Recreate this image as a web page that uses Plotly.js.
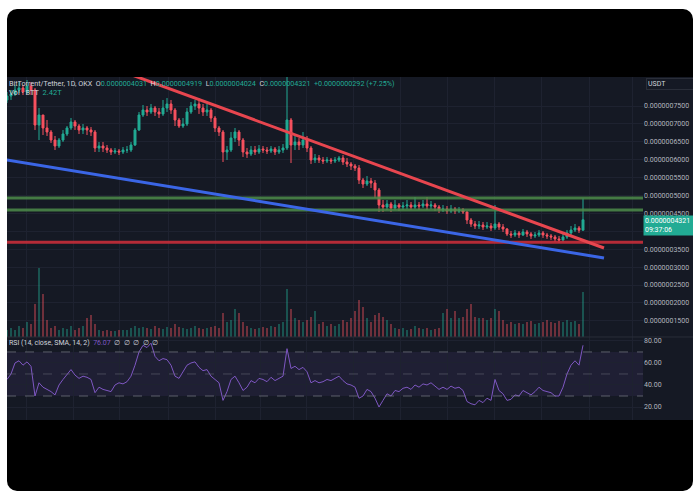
<!DOCTYPE html>
<html>
<head>
<meta charset="utf-8">
<script src="https://cdn.plot.ly/plotly-3.0.1.min.js"></script>
<style>
  html, body { margin:0; padding:0; background:#ffffff; width:700px; height:500px; overflow:hidden; }
  #frame { position:absolute; left:7px; top:9px; width:686px; height:482px; background:#000; border-radius:10px; }
  #chart { position:absolute; left:7px; top:77px; width:686px; height:343px; overflow:hidden; }
</style>
</head>
<body>
<div id="frame"></div>
<div id="chart"></div>
<script>
// Prices stored as price x 1e10 (e.g. 4321 = 0.0000004321 USDT)
const openFirstE10 = 7668;
const closeE10 = [7779,7835,7947,8003,7891,8059,7947,6969,7249,6886,6774,6550,6383,6550,6718,6886,7053,6941,6830,6886,
  6830,6774,6327,6383,6327,6271,6215,6243,6215,6271,6271,6411,6830,7249,7388,7332,7444,7332,7277,7444,
  7556,7388,7109,6941,6997,7332,7500,7556,7444,7332,7388,7165,6886,6774,6215,6271,6606,6774,6550,6215,
  6159,6271,6215,6299,6271,6243,6299,6215,6271,6327,7109,6411,6495,6411,6550,6327,5992,6048,5992,5964,
  5992,5964,5992,6048,5936,5880,5824,5768,5433,5321,5405,5349,5154,4735,4679,4763,4651,4735,4679,4707,
  4735,4679,4735,4707,4763,4707,4735,4679,4595,4623,4567,4623,4567,4595,4539,4316,4204,4148,4176,4121,
  4148,4093,4204,4121,4065,3926,3898,3954,3898,3981,3926,3870,3898,3954,3898,3870,3842,3786,3758,3842,
  3954,4037,4093,4031,4321];
const highE10 = [7891,7947,8087,8170,8087,8226,8170,8003,7444,7249,7109,6830,6662,6606,6830,6941,7165,7109,6997,6997,
  6941,6913,6830,6495,6495,6411,6327,6327,6299,6355,6383,6495,6886,7332,7528,7500,7556,7500,7444,7668,
  7723,7668,7444,7165,7165,7444,7612,7668,7723,7556,7556,7444,7221,6941,6830,6383,6774,6886,6830,6606,
  6327,6383,6383,6411,6383,6355,6383,6355,6383,6439,8600,7165,6662,6606,6774,6662,6383,6159,6131,6076,
  6076,6048,6076,6104,6131,6048,5936,5880,5852,5489,5545,5489,5433,5210,4875,4875,4819,4875,4791,4819,
  4875,4819,4958,4819,4875,4958,4847,4791,4735,4735,4707,4735,4679,4679,4651,4567,4372,4288,4288,4260,
  4260,4232,4735,4260,4204,4093,4009,4037,4009,4065,4037,3981,3981,4037,4009,3954,3926,3898,3870,3926,
  4037,4148,4204,4148,4919];
const lowE10 = [7584,7668,7779,7863,7807,7835,7807,6830,6550,6690,6662,6467,6271,6327,6495,6662,6830,6830,6718,6718,
  6690,6662,6215,6215,6215,6187,6131,6159,6131,6159,6187,6215,6383,6802,7193,7221,7277,7221,7165,7221,
  7332,7277,6941,6886,6886,6941,7277,7388,7277,7221,7221,7053,6774,6662,5936,5992,6215,6495,6383,6076,
  6048,6104,6131,6159,6187,6159,6187,6131,6159,6187,6271,5908,6271,6271,6327,6215,5880,5908,5908,5880,
  5908,5880,5908,5936,5852,5796,5712,5684,5321,5210,5265,5210,4930,4539,4539,4595,4539,4595,4567,4595,
  4623,4595,4623,4595,4651,4595,4623,4567,4512,4539,4484,4512,4484,4512,4484,4204,4121,4065,4065,4037,
  4065,4009,4037,4037,3981,3870,3814,3842,3814,3870,3842,3786,3814,3842,3814,3786,3758,3702,3674,3702,
  3786,3898,3981,3954,4024];
// Volume in trillions of BTT
const volumeT = [0.35,0.5,0.4,0.6,0.5,0.8,0.7,1.8,3.7,2.3,0.9,0.5,0.6,0.4,0.5,0.45,0.6,0.4,0.5,0.6,
  1.0,1.2,0.7,0.4,0.3,0.35,0.3,0.3,0.35,0.4,0.35,0.5,0.6,0.5,0.55,0.5,0.45,0.6,0.5,0.45,
  0.55,0.5,0.7,0.55,0.5,0.45,0.5,0.6,0.5,0.45,0.5,0.55,0.6,0.5,1.3,0.8,0.9,1.5,1.3,0.8,
  0.6,0.5,0.45,0.5,0.55,0.5,0.6,0.55,0.7,0.8,2.6,1.5,1.0,0.9,0.8,0.9,1.1,1.4,0.7,0.8,
  0.6,0.7,0.6,0.7,0.9,0.8,1.0,1.4,2.0,1.6,1.0,0.8,1.2,1.3,1.1,0.9,0.7,0.5,0.45,0.5,
  0.4,0.45,0.6,0.5,0.45,0.5,0.4,0.45,0.5,1.3,1.5,1.0,1.4,1.0,1.1,1.5,1.8,1.1,1.0,1.0,
  0.9,1.0,1.5,1.4,0.9,0.7,0.8,0.7,0.75,0.7,0.8,0.85,0.7,0.75,0.8,0.9,0.8,0.75,0.85,0.8,
  0.9,0.8,0.85,0.7,2.42];
const rsi = [45,50,60,62,58,61,57,30,42,38,36,34,31,40,45,50,54,49,46,48,
  47,45,33,38,36,35,34,40,42,41,43,48,58,70,76,74,78,66,62,64,
  63,58,48,46,52,58,60,61,56,53,54,48,45,42,26,34,45,48,42,35,
  38,44,42,46,45,43,47,44,46,48,73,55,57,54,56,52,42,44,42,43,
  45,44,46,48,44,41,40,38,28,30,36,34,28,20,26,32,30,35,34,37,
  38,36,40,38,41,40,42,39,36,38,36,39,37,38,35,25,23,22,26,24,
  28,26,45,35,32,26,27,31,30,35,33,31,34,38,35,34,33,30,30,38,
  50,58,62,58,76.07];
const priceTicksE10 = [1500,2000,2500,3000,3500,4000,4500,5000,5500,6000,6500,7000,7500];
const hiddenTickE10 = 4000; // label covered by the live price tag in the reference
const rsiTicks = [20,40,60,80];
const greenZoneE10 = [4930, 4595];
const redLevelE10 = 3695;
const redTrend = {x:[30,149.25], p:[8416,3534]};
const blueTrend = {x:[-1,149.25], p:[6011,3255]};
const gridX = [4.75,16.5,28,40.25,52,63.25,74.75,86.5,98.25,110,121.75,133.5,145.5,156.25];

const E = 1e-10;
const idx = closeE10.map((_, i) => i);
const openE10 = [openFirstE10].concat(closeE10.slice(0, -1));
const up = closeE10.map((c, i) => c >= openE10[i]);
const priceTickText = priceTicksE10.map(v => v === hiddenTickE10 ? '' : (v * E).toFixed(10));

const GREEN = '#22ab94', RED = '#f7525f', TXT = '#b2b5be', GRID = '#1e2230';
const FONT = 'Roboto, "Liberation Sans", sans-serif';

const traces = [
  {type:'bar', x:idx, y:volumeT, yaxis:'y2', xaxis:'x', width:0.45,
   marker:{color:up.map(u => u ? 'rgba(34,171,148,0.4)' : 'rgba(247,82,95,0.4)'), line:{width:0}}, hoverinfo:'skip'},
  {type:'candlestick', x:idx, open:openE10.map(v=>v*E), high:highE10.map(v=>v*E), low:lowE10.map(v=>v*E), close:closeE10.map(v=>v*E),
   xaxis:'x', yaxis:'y',
   increasing:{line:{color:GREEN, width:1}, fillcolor:GREEN},
   decreasing:{line:{color:RED, width:1}, fillcolor:RED}, whiskerwidth:0, hoverinfo:'skip'},
  {type:'scatter', mode:'lines', x:idx, y:rsi, xaxis:'x', yaxis:'y3',
   line:{color:'#7e57c2', width:1}, hoverinfo:'skip'}
];

const shapes = [
  {type:'rect', xref:'paper', yref:'y3', x0:0, x1:1, y0:30, y1:70, fillcolor:'rgba(126,87,194,0.10)', line:{width:0}, layer:'below'},
  {type:'line', xref:'paper', yref:'y3', x0:0, x1:1, y0:70, y1:70, line:{color:'rgba(120,123,134,0.7)', width:1, dash:'dash'}},
  {type:'line', xref:'paper', yref:'y3', x0:0, x1:1, y0:50, y1:50, line:{color:'rgba(120,123,134,0.45)', width:1, dash:'dash'}},
  {type:'line', xref:'paper', yref:'y3', x0:0, x1:1, y0:30, y1:30, line:{color:'rgba(120,123,134,0.7)', width:1, dash:'dash'}},
  {type:'line', xref:'paper', yref:'paper', x0:0, x1:1.08, y0:0.242, y1:0.242, line:{color:'#2a2e39', width:1}},
  {type:'line', xref:'paper', yref:'y', x0:0, x1:1, y0:greenZoneE10[0]*E, y1:greenZoneE10[0]*E, line:{color:'rgba(76,140,74,0.85)', width:3}},
  {type:'line', xref:'paper', yref:'y', x0:0, x1:1, y0:greenZoneE10[1]*E, y1:greenZoneE10[1]*E, line:{color:'rgba(76,140,74,0.85)', width:3}},
  {type:'line', xref:'paper', yref:'y', x0:0, x1:1, y0:redLevelE10*E, y1:redLevelE10*E, line:{color:'rgba(200,45,58,0.9)', width:3}},
  {type:'line', xref:'x', yref:'y', x0:redTrend.x[0], x1:redTrend.x[1], y0:redTrend.p[0]*E, y1:redTrend.p[1]*E, line:{color:'#e8464f', width:3}},
  {type:'line', xref:'x', yref:'y', x0:blueTrend.x[0], x1:blueTrend.x[1], y0:blueTrend.p[0]*E, y1:blueTrend.p[1]*E, line:{color:'#3b66e6', width:3}}
];

const g = s => '<span style="color:' + GREEN + '">' + s + '</span>';
const annotations = [
  {xref:'paper', yref:'paper', x:0, y:0.982, xanchor:'left', yanchor:'middle', showarrow:false, align:'left',
   font:{family:FONT, size:7.2, color:'#d1d4dc'},
   text:'BitTorrent/Tether, 1D, OKX  O' + g('0.0000004031') + '  H' + g('0.0000004919') + '  L' + g('0.0000004024') + '  C' + g('0.0000004321') + '  ' + g('+0.0000000292 (+7.25%)')},
  {xref:'paper', yref:'paper', x:0, y:0.955, xanchor:'left', yanchor:'middle', showarrow:false, align:'left',
   font:{family:FONT, size:7.5, color:'#d1d4dc'}, text:'Vol · BTT  ' + g('2.42T')},
  {xref:'paper', yref:'paper', x:0, y:0.2245, xanchor:'left', yanchor:'middle', showarrow:false, align:'left',
   font:{family:FONT, size:7, color:'#d1d4dc'},
   text:'RSI (14, close, SMA, 14, 2)  <span style="color:#7e57c2">76.07</span>  ∅  ∅  ∅  ∅  ∅'},
  {xref:'paper', yref:'paper', x:1.004, y:0.98, xanchor:'left', yanchor:'middle', showarrow:false, align:'left',
   width:44, bgcolor:'#151924', bordercolor:'#2a2e39', borderwidth:1, borderpad:1,
   font:{family:FONT, size:7, color:'#d1d4dc'}, text:'USDT'},
  {xref:'paper', yref:'y', x:1.0, y:closeE10[closeE10.length-1]*E, xanchor:'left', yanchor:'middle', yshift:-6, showarrow:false, align:'left',
   width:47, bgcolor:GREEN, borderpad:1,
   font:{family:FONT, size:7, color:'#ffffff'}, text:'0.0000004321<br>09:37:06'}
];

const layout = {
  width:686, height:343,
  margin:{l:0, r:50, t:0, b:0, pad:0},
  paper_bgcolor:'#151924', plot_bgcolor:'#151924',
  showlegend:false, dragmode:false, bargap:0,
  font:{family:FONT, color:TXT, size:7},
  xaxis:{range:[0,159], tickvals:gridX, showticklabels:false, ticks:'', showgrid:true, gridcolor:GRID, gridwidth:1,
         zeroline:false, showline:false, rangeslider:{visible:false}, anchor:'y3'},
  yaxis:{domain:[0.242,1], range:[1048*E, 8310*E], side:'right', tickvals:priceTicksE10.map(v=>v*E), ticktext:priceTickText,
         tickfont:{family:FONT, size:7, color:TXT}, showgrid:true, gridcolor:GRID, zeroline:false, showline:false, ticks:'', anchor:'x'},
  yaxis2:{overlaying:'y', range:[0,14], visible:false, showgrid:false, zeroline:false},
  yaxis3:{domain:[0,0.242], range:[8.2,83.6], side:'right', tickvals:rsiTicks, tickformat:'.2f',
          tickfont:{family:FONT, size:7, color:TXT}, showgrid:true, gridcolor:GRID, zeroline:false, showline:false, ticks:'', anchor:'x'},
  shapes:shapes, annotations:annotations
};

Plotly.newPlot('chart', traces, layout, {staticPlot:true, displayModeBar:false});
</script>
</body>
</html>
